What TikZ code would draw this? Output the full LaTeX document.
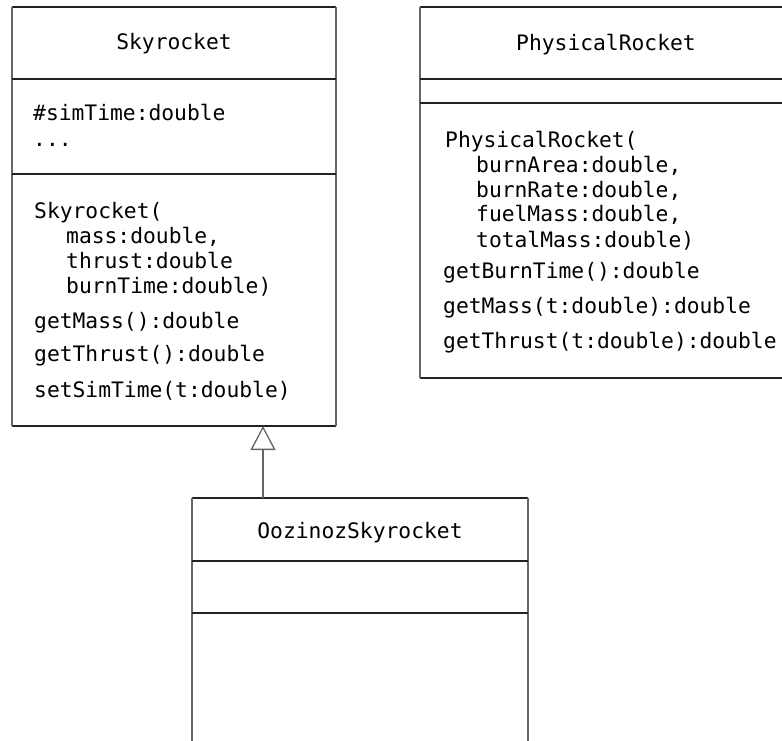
\documentclass[tikz,border=0pt]{standalone}
\usepackage{fontspec}
\setmonofont{DejaVu Sans Mono}
\usetikzlibrary{arrows.meta}
\definecolor{hline}{HTML}{222222}
\definecolor{vline}{HTML}{666666}
\tikzset{
  box/.style={rectangle, inner sep=0pt, outer sep=0pt},
  hl/.style={draw=hline, line width=1.3pt},
  vl/.style={draw=vline, line width=1.8pt},
  txt/.style={inner sep=0pt, anchor=base west, font=\fontsize{21.3pt}{25pt}\selectfont\ttfamily},
  ttl/.style={inner sep=0pt, anchor=base, font=\fontsize{21.3pt}{25pt}\selectfont\ttfamily},
}
\begin{document}
\begin{tikzpicture}[x=1pt,y=-1pt]
\useasboundingbox (0,0) rectangle (782,740);
\clip (0,0) rectangle (782,740);
% box frames (invisible nodes)
\node[box, minimum width=324pt, minimum height=419pt] (sky) at (174,216.5) {};
\node[box, minimum width=372pt, minimum height=371pt] (phys) at (606,192.5) {};
\node[box, minimum width=336pt, minimum height=262pt] (ooz) at (360,629) {};
% Skyrocket
\draw[hl] (sky.north west) -- (sky.north east);
\draw[hl] (sky.south west) -- (sky.south east);
\draw[vl] (sky.north west) -- (sky.south west);
\draw[vl] (sky.north east) -- (sky.south east);
\draw[hl] (12,79) -- (336,79);
\draw[hl] (12,174) -- (336,174);
\node[ttl] (skyt) at (174,49) {Skyrocket};
\node[txt] (s1) at (33,120) {\#simTime:double};
\node[txt] (s2) at (33,146) {...};
\node[txt] (s3) at (34,218) {Skyrocket(};
\node[txt] (s4) at (66,243) {mass:double,};
\node[txt] (s5) at (66,268) {thrust:double};
\node[txt] (s6) at (66,293) {burnTime:double)};
\node[txt] (s7) at (34,328) {getMass():double};
\node[txt] (s8) at (34,361) {getThrust():double};
\node[txt] (s9) at (34,397) {setSimTime(t:double)};
% PhysicalRocket
\draw[hl] (phys.north west) -- (phys.north east);
\draw[hl] (phys.south west) -- (phys.south east);
\draw[vl] (phys.north west) -- (phys.south west);
\draw[vl] (phys.north east) -- (phys.south east);
\draw[hl] (420,79) -- (792,79);
\draw[hl] (420,103) -- (792,103);
\node[ttl] (physt) at (606,50) {PhysicalRocket};
\node[txt] (p1) at (445,147) {PhysicalRocket(};
\node[txt] (p2) at (476,172) {burnArea:double,};
\node[txt] (p3) at (476,197) {burnRate:double,};
\node[txt] (p4) at (476,221) {fuelMass:double,};
\node[txt] (p5) at (476,247) {totalMass:double)};
\node[txt] (p6) at (443,278) {getBurnTime():double};
\node[txt] (p7) at (443,313) {getMass(t:double):double};
\node[txt] (p8) at (443,348) {getThrust(t:double):double};
% OozinozSkyrocket
\draw[hl] (ooz.north west) -- (ooz.north east);
\draw[vl] (ooz.north west) -- (ooz.south west);
\draw[vl] (ooz.north east) -- (ooz.south east);
\draw[hl] (192,561) -- (528,561);
\draw[hl] (192,613) -- (528,613);
\node[ttl] (oozt) at (360,538) {OozinozSkyrocket};
% inheritance
\coordinate (inh) at (263,0);
\draw[vl, -{Triangle[open, length=24pt, width=25pt, line width=1.3pt]}, line width=1.8pt]
  (ooz.north -| inh) -- (sky.south -| inh);
\end{tikzpicture}
\end{document}
